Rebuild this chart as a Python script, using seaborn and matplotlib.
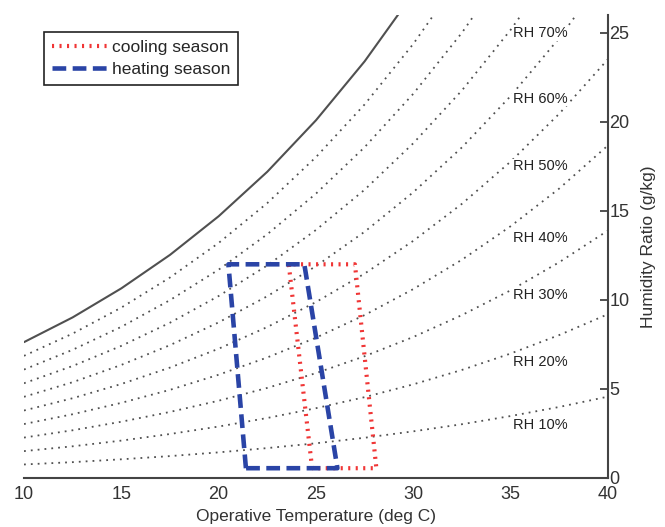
import pandas as pd
import matplotlib
matplotlib.use("Agg")
import matplotlib.pyplot as plt
import seaborn as sns

# operative temperature grid (deg C)
temps = [10, 12.5, 15, 17.5, 20, 22.5, 25, 27.5, 30, 32.5, 35, 37.5, 40]

# humidity ratio (g/kg)
sat = [7.63, 9.02, 10.65, 12.53, 14.70, 17.20, 20.09, 23.40, 27.21, 31.57, 36.59, 42.31, 48.90]
rh10 = [0.76, 0.89, 1.05, 1.23, 1.44, 1.68, 1.95, 2.26, 2.62, 3.02, 3.48, 3.99, 4.57]
rh20 = [1.51, 1.78, 2.10, 2.47, 2.89, 3.37, 3.92, 4.54, 5.26, 6.07, 6.99, 8.03, 9.20]
rh30 = [2.27, 2.68, 3.16, 3.71, 4.34, 5.06, 5.89, 6.84, 7.92, 9.15, 10.54, 12.12, 13.90]
rh40 = [3.03, 3.58, 4.22, 4.95, 5.80, 6.77, 7.88, 9.15, 10.61, 12.26, 14.14, 16.26, 18.68]
rh50 = [3.79, 4.48, 5.28, 6.20, 7.26, 8.48, 9.88, 11.48, 13.32, 15.40, 17.77, 20.46, 23.52]
rh60 = [4.56, 5.38, 6.35, 7.46, 8.74, 10.21, 11.90, 13.83, 16.05, 18.57, 21.45, 24.71, 28.44]
rh70 = [5.32, 6.29, 7.42, 8.72, 10.22, 11.94, 13.93, 16.19, 18.80, 21.77, 25.17, 29.02, 33.44]
rh80 = [6.09, 7.20, 8.49, 9.99, 11.70, 13.69, 15.97, 18.58, 21.58, 25.01, 28.93, 33.39, 38.51]
rh90 = [6.86, 8.11, 9.57, 11.26, 13.20, 15.44, 18.02, 20.98, 24.38, 28.27, 32.74, 37.82, 43.67]
rh_levels = [10, 20, 30, 40, 50, 60, 70, 80, 90]
rh_curves = [rh10, rh20, rh30, rh40, rh50, rh60, rh70, rh80, rh90]

# RH labels on the right side
rh_label_text = ["RH 10%", "RH 20%", "RH 30%", "RH 40%", "RH 50%", "RH 60%", "RH 70%"]
rh_label_x = [35.1] * 7
rh_label_y = [3.0, 6.5, 10.3, 13.5, 17.5, 21.3, 25.0]

# comfort zones (closed polygons)
cool_t = [24.8, 23.6, 27.0, 28.1, 24.8]
cool_w = [0.55, 12.0, 12.0, 0.55, 0.55]
heat_t = [21.4, 20.5, 24.4, 26.1, 21.4]
heat_w = [0.55, 12.0, 12.0, 0.55, 0.55]

rhDF = pd.concat([pd.DataFrame({"temp": temps, "w": c, "rh": r})
                  for r, c in zip(rh_levels, rh_curves)], ignore_index=True)
satDF = pd.DataFrame({"temp": temps, "w": sat})
coolDF = pd.DataFrame({"temp": cool_t, "w": cool_w})
heatDF = pd.DataFrame({"temp": heat_t, "w": heat_w})

sns.set_theme(style="white")
plt.rcParams["font.family"] = ["Liberation Sans", "DejaVu Sans"]

fig = plt.figure(figsize=(6.65, 5.27), dpi=100)
ax = fig.add_axes([24 / 665, 49 / 527, 584 / 665, 463 / 527])

sns.lineplot(data=satDF, x="temp", y="w", color="#505050", lw=1.5, ax=ax)
sns.lineplot(data=rhDF, x="temp", y="w", units="rh", estimator=None,
             color="#505050", lw=1.3, linestyle=(0, (1, 2.8)), ax=ax)
sns.lineplot(data=coolDF, x="temp", y="w", sort=False, estimator=None,
             color="#f03535", lw=3, linestyle=(0, (0.5, 1.3)),
             label="cooling season", ax=ax)
sns.lineplot(data=heatDF, x="temp", y="w", sort=False, estimator=None,
             color="#2a44a6", lw=3.3, linestyle=(0, (3, 1.4)),
             label="heating season", ax=ax)

for txt, tx, ty in zip(rh_label_text, rh_label_x, rh_label_y):
    ax.text(tx, ty, txt, fontsize=10.5, ha="left", va="center", color="#222222",
            zorder=5, bbox=dict(facecolor="white", edgecolor="none", pad=0.5))

ax.set_xlim(10, 40)
ax.set_ylim(0, 26)
ax.set_xticks([10, 15, 20, 25, 30, 35, 40])
ax.set_yticks([0, 5, 10, 15, 20, 25])
ax.yaxis.tick_right()
ax.yaxis.set_label_position("right")
ax.tick_params(direction="in", length=6, width=1.2, labelsize=13, colors="#333333")
ax.tick_params(axis="x", pad=6)
ax.tick_params(axis="y", pad=1)
for side in ["left", "top"]:
    ax.spines[side].set_visible(False)
for side in ["right", "bottom"]:
    ax.spines[side].set_color("#444444")
    ax.spines[side].set_linewidth(1.5)

ax.set_xlabel("Operative Temperature (deg C)", fontsize=12.5, color="#333333")
ax.set_ylabel("Humidity Ratio (g/kg)", fontsize=12.5, color="#333333", labelpad=8)
ax.xaxis.set_label_coords(0.5, -0.066)

leg = ax.legend(loc="upper left", bbox_to_anchor=(0.034, 0.963), borderaxespad=0,
                fancybox=False, edgecolor="#222222", framealpha=1, fontsize=12.5,
                handlelength=3.2, handletextpad=0.25, borderpad=0.45,
                labelspacing=0.4)
leg.get_frame().set_linewidth(1.2)

fig.savefig("out.png", dpi=100)
